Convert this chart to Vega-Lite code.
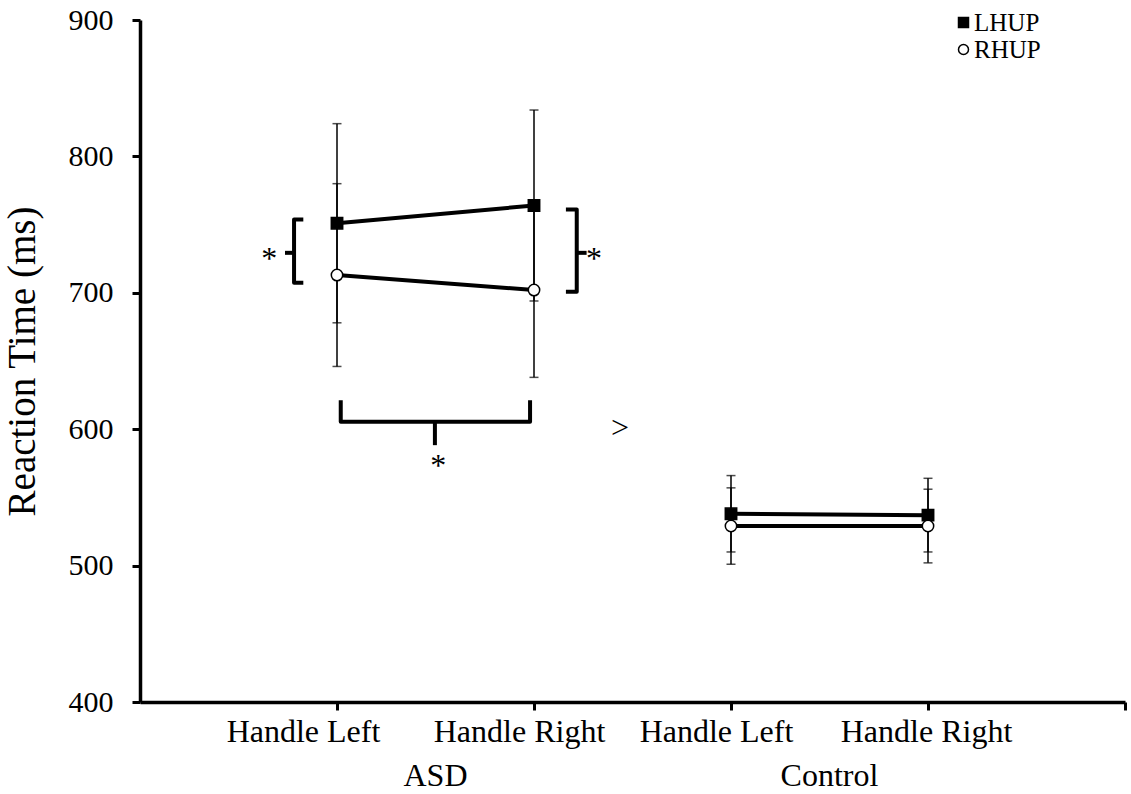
{
  "$schema": "https://vega.github.io/schema/vega-lite/v6.json",
  "width": 985,
  "height": 682,
  "autosize": {"type": "none"},
  "padding": {"left": 140, "top": 20, "right": 6, "bottom": 92},
  "background": "white",
  "config": {
    "view": {"stroke": null},
    "font": "Liberation Serif",
    "axis": {
      "labelFont": "Liberation Serif",
      "titleFont": "Liberation Serif",
      "labelColor": "black",
      "titleColor": "black",
      "domainColor": "black",
      "tickColor": "black",
      "grid": false
    }
  },
  "datasets": {
    "means": [
      {"group": "ASD", "pos": 1, "series": "LHUP", "rt": 751, "se": 73},
      {"group": "ASD", "pos": 1, "series": "RHUP", "rt": 713, "se": 67},
      {"group": "ASD", "pos": 2, "series": "LHUP", "rt": 764, "se": 70},
      {"group": "ASD", "pos": 2, "series": "RHUP", "rt": 702, "se": 64},
      {"group": "Control", "pos": 3, "series": "LHUP", "rt": 538, "se": 28},
      {"group": "Control", "pos": 3, "series": "RHUP", "rt": 529, "se": 28},
      {"group": "Control", "pos": 4, "series": "LHUP", "rt": 537, "se": 27},
      {"group": "Control", "pos": 4, "series": "RHUP", "rt": 529, "se": 27}
    ],
    "brackets": [
      {"id": "left", "k": 0, "x": 0.829, "y": 753.7},
      {"id": "left", "k": 1, "x": 0.782, "y": 753.7},
      {"id": "left", "k": 2, "x": 0.782, "y": 707.3},
      {"id": "left", "k": 3, "x": 0.829, "y": 707.3},
      {"id": "leftTip", "k": 0, "x": 0.782, "y": 729.3},
      {"id": "leftTip", "k": 1, "x": 0.736, "y": 729.3},
      {"id": "right", "k": 0, "x": 2.162, "y": 761},
      {"id": "right", "k": 1, "x": 2.217, "y": 761},
      {"id": "right", "k": 2, "x": 2.217, "y": 700.7},
      {"id": "right", "k": 3, "x": 2.162, "y": 700.7},
      {"id": "rightTip", "k": 0, "x": 2.217, "y": 729.3},
      {"id": "rightTip", "k": 1, "x": 2.267, "y": 729.3},
      {"id": "bottom", "k": 0, "x": 1.019, "y": 621.3},
      {"id": "bottom", "k": 1, "x": 1.019, "y": 605.4},
      {"id": "bottom", "k": 2, "x": 1.98, "y": 605.4},
      {"id": "bottom", "k": 3, "x": 1.98, "y": 621.3},
      {"id": "bottomTip", "k": 0, "x": 1.497, "y": 605.4},
      {"id": "bottomTip", "k": 1, "x": 1.497, "y": 588.3}
    ],
    "notes": [
      {"x": 0.656, "y": 729.3, "text": "*"},
      {"x": 2.305, "y": 729.3, "text": "*"},
      {"x": 1.514, "y": 577.3, "text": "*"},
      {"x": 2.437, "y": 605.4, "text": ">"}
    ],
    "groups": [
      {"x": 1.5, "label": "ASD"},
      {"x": 3.5, "label": "Control"}
    ]
  },
  "layer": [
    {
      "data": {"name": "means"},
      "mark": {"type": "errorbar", "ticks": {"size": 9, "thickness": 1.5}, "thickness": 1.5, "color": "black"},
      "encoding": {
        "x": {
          "field": "pos", "type": "quantitative",
          "scale": {"domain": [0, 5], "nice": false, "zero": false},
          "axis": {
            "title": null,
            "values": [1, 2, 3, 4, 5],
            "labelExpr": "datum.value == 1 || datum.value == 3 ? 'Handle Left' : (datum.value == 2 || datum.value == 4 ? 'Handle Right' : '')",
            "labelFontSize": 32,
            "labelPadding": 6,
            "labelOffset": {
              "condition": [
                {"test": "datum.value == 1", "value": -34},
                {"test": "datum.value == 4", "value": -2}
              ],
              "value": -15
            },
            "tickSize": 8,
            "tickWidth": 3,
            "domainWidth": 3.5
          }
        },
        "y": {
          "field": "rt", "type": "quantitative",
          "scale": {"domain": [400, 900], "nice": false, "zero": false},
          "axis": {
            "title": "Reaction Time (ms)",
            "titleFontSize": 39,
            "titleFontWeight": "normal",
            "titlePadding": 26,
            "values": [400, 500, 600, 700, 800, 900],
            "labelFontSize": 30,
            "labelPadding": 19,
            "tickSize": 8,
            "tickWidth": 3,
            "domainWidth": 3.5
          }
        },
        "yError": {"field": "se"}
      }
    },
    {
      "data": {"name": "means"},
      "mark": {"type": "line", "color": "black", "strokeWidth": 4},
      "encoding": {
        "x": {"field": "pos", "type": "quantitative"},
        "y": {"field": "rt", "type": "quantitative"},
        "detail": [{"field": "series"}, {"field": "group"}]
      }
    },
    {
      "data": {"name": "means"},
      "mark": {"type": "point", "filled": true, "stroke": "black", "strokeWidth": 1.5, "size": 130, "opacity": 1},
      "encoding": {
        "x": {"field": "pos", "type": "quantitative"},
        "y": {"field": "rt", "type": "quantitative"},
        "shape": {
          "field": "series", "type": "nominal",
          "scale": {"domain": ["LHUP", "RHUP"], "range": ["square", "circle"]},
          "legend": {
            "title": null,
            "orient": "none",
            "legendX": 811,
            "legendY": -10,
            "labelFont": "Liberation Serif",
            "labelFontSize": 25,
            "labelColor": "black",
            "symbolSize": 100,
            "rowPadding": 1,
            "labelOffset": -2,
            "encode": {
              "symbols": {
                "update": {
                  "stroke": {"value": "black"},
                  "strokeWidth": {"value": 2}
                }
              }
            }
          }
        },
        "fill": {
          "field": "series", "type": "nominal",
          "scale": {"domain": ["LHUP", "RHUP"], "range": ["black", "white"]},
          "legend": null
        }
      }
    },
    {
      "data": {"name": "brackets"},
      "mark": {"type": "line", "color": "black", "strokeWidth": 4, "strokeJoin": "round"},
      "encoding": {
        "x": {"field": "x", "type": "quantitative"},
        "y": {"field": "y", "type": "quantitative"},
        "detail": {"field": "id"},
        "order": {"field": "k"}
      }
    },
    {
      "data": {"name": "notes"},
      "mark": {"type": "text", "fontSize": 32, "color": "black", "baseline": "middle", "align": "center", "dy": 6},
      "encoding": {
        "x": {"field": "x", "type": "quantitative"},
        "y": {"field": "y", "type": "quantitative"},
        "text": {"field": "text"}
      }
    },
    {
      "data": {"name": "groups"},
      "mark": {"type": "text", "fontSize": 32, "color": "black", "baseline": "middle", "align": "center", "dy": 74},
      "encoding": {
        "x": {"field": "x", "type": "quantitative"},
        "y": {"datum": 400, "type": "quantitative"},
        "text": {"field": "label"}
      }
    }
  ]
}
